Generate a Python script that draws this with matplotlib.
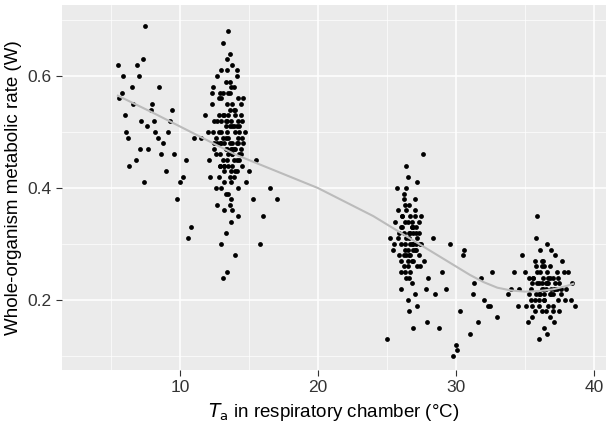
import matplotlib
matplotlib.use("Agg")
import matplotlib.pyplot as plt

plt.rcParams['font.family'] = ['Liberation Sans', 'DejaVu Sans']

# Points, cluster by cluster
xa = [5.5,5.8,6.0,6.2,6.5,6.8,7.0,7.2,7.5,7.7,8.0,8.2,8.5,8.8,9.0,9.3,9.6,10.0,5.6,6.3,6.9,7.4,7.9,8.4,9.1,9.8,10.4,10.8,11.0,6.1,7.1,8.1,6.6,7.6,8.6,9.4,10.2,10.6,5.9,7.3]
ya = [0.62,0.57,0.53,0.49,0.58,0.45,0.60,0.52,0.69,0.47,0.55,0.50,0.58,0.48,0.43,0.52,0.46,0.41,0.56,0.44,0.62,0.41,0.54,0.49,0.50,0.38,0.45,0.33,0.49,0.50,0.47,0.52,0.55,0.51,0.46,0.54,0.42,0.31,0.60,0.63]

xb = [12.0,12.3,12.5,12.7,12.9,13.0,13.1,13.2,13.3,13.4,13.5,13.6,13.7,13.8,13.9,14.0,14.1,14.2,14.3,14.5,
      12.2,12.6,12.8,13.0,13.2,13.4,13.6,13.8,14.0,14.2,14.4,14.6,12.4,12.9,13.3,13.7,14.1,14.5,13.1,13.5,
      13.9,12.1,12.6,13.0,13.4,13.8,14.2,14.7,15.0,15.3,11.5,11.8,12.3,12.7,13.2,13.6,14.0,14.4,14.8,15.5,
      13.1,13.3,13.5,13.7,13.9,12.8,13.4,14.3,13.0,13.6,14.1,12.5,13.8,14.6,13.2,13.5,16.0,16.5,17.0,15.8,
      13.3,13.7,13.9,13.1,13.6,14.0,12.9,14.2,13.4,13.8,
      12.6,12.8,13.0,13.2,13.4,13.6,13.8,14.0,14.2,14.4,12.7,12.9,13.1,13.3,13.5,13.7,13.9,14.1,14.3,13.0,
      13.2,13.4,13.6,13.8,14.0,12.8,13.3,13.7,14.1,13.5,12.5,12.9,13.3,13.7,14.1,14.5,13.0,13.4,13.8,14.2,
      13.1,13.5,13.9,12.7,14.3,13.6,13.2,13.8,14.4,12.4]
yb = [0.50,0.55,0.47,0.60,0.44,0.52,0.57,0.41,0.49,0.63,0.46,0.54,0.38,0.51,0.58,0.43,0.48,0.56,0.45,0.52,
      0.42,0.49,0.53,0.61,0.36,0.47,0.59,0.44,0.50,0.40,0.55,0.48,0.58,0.46,0.52,0.34,0.61,0.44,0.66,0.39,
      0.47,0.45,0.40,0.30,0.55,0.62,0.35,0.50,0.43,0.38,0.49,0.53,0.57,0.37,0.48,0.64,0.28,0.53,0.41,0.45,
      0.24,0.32,0.68,0.43,0.51,0.56,0.25,0.46,0.50,0.42,0.60,0.48,0.36,0.56,0.44,0.53,0.35,0.40,0.38,0.30,
      0.47,0.52,0.45,0.49,0.57,0.54,0.44,0.48,0.50,0.46,
      0.46,0.50,0.48,0.53,0.45,0.51,0.47,0.53,0.49,0.46,0.52,0.48,0.45,0.51,0.49,0.47,0.54,0.45,0.50,0.56,
      0.43,0.52,0.48,0.55,0.47,0.42,0.59,0.41,0.51,0.44,0.52,0.57,0.39,0.58,0.43,0.49,0.40,0.61,0.48,0.52,
      0.53,0.57,0.42,0.48,0.51,0.37,0.44,0.46,0.47,0.50]

xc = [25.5,25.8,26.0,26.1,26.2,26.3,26.4,26.5,26.6,26.7,26.8,26.9,27.0,27.1,27.2,27.3,27.5,27.7,28.0,28.3,
      25.7,26.0,26.3,26.6,26.9,27.2,27.5,25.9,26.2,26.5,26.8,27.1,27.4,26.4,26.7,27.0,25.2,26.1,26.6,27.3,
      27.8,26.3,26.9,25.0,26.5,27.6,28.5,26.0,26.8,27.2,25.6,26.4,27.0,26.2,26.7,27.4,26.5,26.9,25.4,27.9,
      26.0,26.2,26.4,26.6,26.8,27.0,27.2,26.1,26.3,26.5,26.7,26.9,27.1,26.4,26.6,26.8,26.2,26.5,27.0,25.8,
      26.3,26.7,27.1,26.0,26.6,26.9,26.4,27.3,25.9,26.8]
yc = [0.30,0.36,0.27,0.33,0.39,0.25,0.31,0.42,0.28,0.35,0.23,0.32,0.38,0.29,0.26,0.34,0.30,0.27,0.24,0.31,
      0.40,0.22,0.34,0.37,0.29,0.41,0.35,0.32,0.28,0.20,0.33,0.30,0.26,0.44,0.25,0.21,0.31,0.35,0.18,0.28,
      0.22,0.29,0.33,0.13,0.27,0.46,0.21,0.25,0.30,0.19,0.34,0.24,0.36,0.38,0.32,0.30,0.26,0.15,0.29,0.16,
      0.30,0.32,0.28,0.31,0.33,0.29,0.31,0.35,0.30,0.34,0.28,0.30,0.33,0.36,0.32,0.27,0.26,0.29,0.35,0.31,
      0.37,0.30,0.32,0.33,0.24,0.27,0.40,0.32,0.28,0.34]

xd = [29.0,29.3,29.6,30.0,30.3,30.6,31.0,31.3,31.6,32.0,32.3,32.6,33.0,29.8,30.5,31.2,31.8,32.5,28.8,30.1]
yd = [0.25,0.22,0.30,0.12,0.18,0.29,0.14,0.23,0.16,0.20,0.19,0.25,0.17,0.10,0.28,0.21,0.24,0.19,0.15,0.11]

xe = [34.0,34.5,35.0,35.3,35.5,35.7,35.9,36.0,36.1,36.2,36.3,36.4,36.5,36.6,36.7,36.8,37.0,37.2,37.5,37.8,
      38.0,38.3,34.8,35.2,35.6,36.0,36.4,36.8,37.2,37.6,38.1,35.4,35.8,36.2,36.6,37.0,37.4,36.1,36.5,36.9,
      33.8,34.2,35.1,35.9,36.3,36.7,37.1,37.7,38.4,38.6,35.5,36.0,36.4,36.9,37.3,35.7,36.2,36.8,34.6,37.9,
      35.4,35.6,35.8,36.0,36.2,36.4,36.6,36.8,37.0,37.2,37.4,35.5,35.9,36.3,36.7,37.1,37.5,35.7,36.1,36.5,
      36.9,37.3,35.3,36.0,36.6,37.6,35.8,36.4,37.0,36.2]
ye = [0.22,0.19,0.25,0.21,0.17,0.27,0.23,0.20,0.29,0.18,0.24,0.15,0.22,0.30,0.19,0.26,0.21,0.23,0.18,0.25,
      0.22,0.20,0.28,0.16,0.24,0.13,0.26,0.17,0.28,0.21,0.25,0.20,0.31,0.23,0.14,0.19,0.24,0.25,0.18,0.22,
      0.21,0.25,0.19,0.35,0.27,0.23,0.16,0.27,0.23,0.19,0.23,0.21,0.20,0.29,0.22,0.18,0.26,0.24,0.22,0.20,
      0.22,0.24,0.21,0.23,0.22,0.20,0.23,0.21,0.24,0.22,0.20,0.19,0.25,0.22,0.24,0.22,0.23,0.20,0.21,0.23,
      0.21,0.25,0.24,0.19,0.25,0.22,0.26,0.21,0.18,0.27]

fit_x = [5.5,8,10,12,14,16,18,20,22,24,26,28,30,31,32,33,34,35,36,37,38,38.5]
fit_y = [0.565,0.535,0.51,0.485,0.46,0.44,0.42,0.40,0.375,0.35,0.32,0.29,0.26,0.245,0.232,0.222,0.217,0.215,0.216,0.219,0.225,0.229]

fig = plt.figure(figsize=(6.16, 4.28), dpi=100)
ax = fig.add_axes([62/616, 1-370/428, (606-62)/616, (370-5)/428])
ax.set_facecolor("#EBEBEB")
for x, y in [(xa, ya), (xb, yb), (xc, yc), (xd, yd), (xe, ye)]:
    ax.scatter(x, y, s=12, c="black", linewidths=0, zorder=3)
ax.plot(fit_x, fit_y, color="#BBBBBB", lw=1.5, zorder=4)
ax.set_xlim(1.45, 40.87)
ax.set_ylim(0.075, 0.727)
ax.set_xticks([10, 20, 30, 40])
ax.set_yticks([0.2, 0.4, 0.6])
ax.set_xticks([5, 15, 25, 35], minor=True)
ax.set_yticks([0.1, 0.3, 0.5, 0.7], minor=True)
ax.grid(True, which="major", color="white", lw=1.1)
ax.grid(True, which="minor", color="white", lw=0.5)
ax.set_axisbelow(True)
for s in ax.spines.values():
    s.set_visible(False)
ax.tick_params(which="major", length=4, color="#333333", labelsize=12.5, labelcolor="#333333")
ax.tick_params(which="minor", length=0)
ax.set_xlabel(r"$\mathit{T}_\mathrm{a}$ in respiratory chamber (°C)", fontsize=13.5)
ax.set_ylabel("Whole-organism metabolic rate (W)", fontsize=13.5)
fig.savefig("out.png", dpi=100)
